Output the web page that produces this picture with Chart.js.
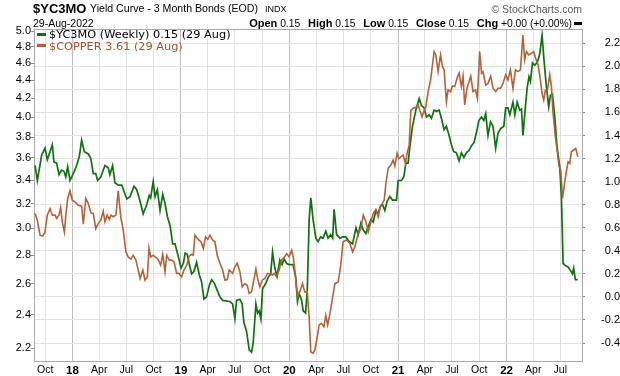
<!DOCTYPE html>
<html>
<head>
<meta charset="utf-8">
<script src="https://cdn.jsdelivr.net/npm/chart.js@4.4.1/dist/chart.umd.min.js"></script>
<style>
  body { margin: 0; background: #fff; }
  #wrap { position: relative; width: 620px; height: 376px; font-family: "Liberation Sans", Arial, sans-serif; color: #000; }
  #chart { position: absolute; left: 0; top: 0; }
  .t { position: absolute; white-space: nowrap; line-height: 1; }
  .lg { font-family: "DejaVu Sans", Verdana, sans-serif; font-size: 11.3px; }
  .mk { display: inline-block; width: 9px; height: 3px; vertical-align: middle; margin-right: 3px; position: relative; top: -1px; }
  #stats b { font-size: 11px; margin-left: 5px; }
  #stats b:first-child { margin-left: 0; }
  .dash { display: inline-block; width: 8px; height: 3px; background: #000; vertical-align: middle; margin-left: 2px; }
</style>
</head>
<body>
<div id="wrap">
  <canvas id="chart" width="620" height="376"></canvas>
  <div class="t" style="left:33px; top:2px; font-size:13px; font-weight:bold;">$YC3MO</div>
  <div class="t" style="left:90px; top:3px; font-size:10.6px;">Yield Curve - 3 Month Bonds (EOD)</div>
  <div class="t" style="left:265px; top:4.5px; font-size:9px;">INDX</div>
  <div class="t" style="left:33px; top:17.5px; font-size:10.5px;">29-Aug-2022</div>
  <div class="t" style="right:38px; top:4px; font-size:10.5px; color:#555;">© StockCharts.com</div>
  <div class="t" id="stats" style="right:38px; top:17.5px; font-size:10.3px;"><b>Open</b> 0.15 <b>High</b> 0.15 <b>Low</b> 0.15 <b>Close</b> 0.15 <b>Chg</b> +0.00 (+0.00%)<span class="dash"></span></div>
  <div class="t lg" style="left:37px; top:29px;"><span class="mk" style="background:#11700f"></span>$YC3MO (Weekly) 0.15 (29 Aug)</div>
  <div class="t lg" style="left:37px; top:40.5px; color:#a0522d;"><span class="mk" style="background:#b0623a"></span>$COPPER 3.61 (29 Aug)</div>
</div>
<script>
// weeks are counted from the first weekly bar, 28 Aug 2017
const START = Date.UTC(2017, 7, 28);
const WEEK = 7 * 86400000;

// $YC3MO (weekly), right axis
const ycWeek = [0,1.1,3.2,4.8,5.9,7.2,8.3,9.1,10.4,11.5,
  12.8,13.9,14.8,15.7,16.8,18.4,20.0,21.3,22.4,23.7,
  25.6,26.8,28.0,29.2,30.1,31.6,33.6,35.2,36.0,37.3,
  38.4,40.0,41.7,44.1,45.7,47.6,48.9,50.5,52.0,53.7,
  54.9,55.6,56.8,57.7,58.8,60.1,61.4,62.5,63.6,64.9,
  66.2,67.3,68.9,70.2,71.3,72.2,73.2,74.1,75.3,76.4,
  77.7,79.0,80.1,81.2,82.5,83.8,84.9,86.2,87.3,88.9,
  90.2,93.7,95.0,96.1,96.9,98.5,99.6,100.4,101.7,103.0,
  104.1,104.9,106.2,107.0,107.8,108.6,109.4,111.0,112.1,113.3,
  114.2,115.3,116.4,117.7,118.8,119.7,121.0,122.2,124.1,125.3,
  126.2,127.0,128.2,128.9,130.1,130.9,131.8,132.6,133.7,135.0,
  136.1,137.3,138.5,139.8,140.9,142.1,143.1,143.8,145.0,146.6,
  147.9,149.4,151.0,152.7,154.3,155.4,156.7,157.8,159.1,160.2,
  161.5,162.6,163.9,165.0,166.1,167.1,168.2,169.3,170.6,171.9,
  173.8,174.6,176.2,177.3,178.3,179.4,180.2,181.5,183.1,184.7,
  185.8,187.1,188.2,189.5,190.6,191.9,193.0,194.3,195.4,196.7,
  197.8,199.1,200.2,201.3,202.6,203.9,205.0,206.2,207.4,208.7,
  209.8,211.1,212.3,213.4,214.7,215.8,216.7,217.8,219.0,220.2,
  221.5,222.6,223.9,225.4,226.3,227.4,228.3,229.1,229.8,230.7,
  231.8,233.1,233.9,234.6,235.8,236.6,237.5,238.2,239.2,240.3,
  241.6,242.7,243.8,244.7,245.9,247.0,247.8,248.8,249.9,251.0,
  252.3,253.1,253.9,255.2,256.3,257.4,258.4,259.0,259.8,261];
const ycValue = [1.14,1.01,1.23,1.29,1.19,1.26,1.32,1.17,1.16,1.06,
  1.10,1.09,1.04,1.13,1.01,1.07,1.14,1.22,1.36,1.26,
  1.24,1.20,1.07,1.07,1.01,1.04,1.14,1.12,1.06,1.14,
  0.99,0.97,0.97,0.85,0.87,0.96,0.93,0.83,0.72,0.80,
  0.88,0.86,1.00,0.87,0.93,0.75,0.89,0.81,0.70,0.62,
  0.46,0.46,0.35,0.25,0.29,0.38,0.37,0.29,0.20,0.22,
  0.30,0.19,0.13,-0.02,0.00,0.10,0.15,0.12,0.07,0.00,
  -0.03,-0.04,-0.06,-0.19,-0.03,-0.02,-0.06,-0.22,-0.30,-0.46,
  -0.48,-0.40,-0.06,-0.14,-0.12,-0.19,0.07,0.12,0.17,0.20,
  0.39,0.25,0.18,0.32,0.28,0.33,0.29,0.28,0.28,0.17,
  -0.04,0.03,-0.03,-0.12,-0.14,0.06,0.67,0.86,0.67,0.51,
  0.48,0.52,0.51,0.57,0.51,0.54,0.51,0.76,0.54,0.51,
  0.52,0.52,0.48,0.46,0.60,0.54,0.64,0.58,0.55,0.61,
  0.67,0.65,0.75,0.72,0.79,0.80,0.75,0.83,0.87,0.84,
  0.84,1.01,1.01,1.04,1.16,1.16,1.30,1.48,1.62,1.72,
  1.66,1.64,1.56,1.58,1.55,1.62,1.61,1.62,1.55,1.45,
  1.48,1.40,1.32,1.26,1.25,1.18,1.25,1.21,1.25,1.27,
  1.31,1.34,1.43,1.53,1.56,1.53,1.59,1.40,1.52,1.48,
  1.29,1.42,1.46,1.48,1.64,1.64,1.58,1.64,1.69,1.58,
  1.69,1.62,1.63,1.40,1.65,1.81,1.91,1.87,2.03,2.01,
  2.04,2.11,2.27,2.06,1.82,1.65,1.75,1.76,1.56,1.30,
  1.13,0.87,0.29,0.27,0.26,0.23,0.20,0.25,0.15,0.15];

// $COPPER, left (log) axis
const cuWeek = [0,1.1,2.4,3.7,4.8,5.9,7.2,8.3,9.6,10.4,
  11.5,12.3,13.1,14.1,14.9,15.7,16.8,17.9,19.2,20.8,
  22.4,23.2,24.4,25.6,26.9,28.0,29.2,30.4,31.6,32.8,
  33.6,34.7,35.7,36.5,37.6,38.9,40.0,41.2,42.4,43.7,
  44.8,46.1,47.2,48.5,49.6,50.5,51.8,52.9,54.0,54.8,
  55.6,56.8,58.1,59.2,60.4,61.4,62.5,63.3,64.6,65.7,
  66.8,68.1,69.2,70.5,71.6,72.9,74.1,75.3,76.1,76.9,
  77.7,78.8,79.8,80.9,82.0,83.0,84.1,85.4,86.5,87.6,
  88.9,90.2,91.3,92.4,93.4,95.0,96.1,97.2,98.5,99.6,
  100.9,102.0,103.0,104.1,105.2,106.2,107.0,108.1,109.2,110.5,
  111.8,112.9,114.2,115.0,116.1,117.4,118.5,119.8,121.0,122.2,
  123.4,124.1,125.3,126.2,127.3,128.6,129.7,130.9,131.8,132.6,
  133.7,134.5,135.6,136.6,137.7,138.9,139.8,140.7,141.8,143.1,
  144.2,145.8,147.0,148.1,149.8,151.4,152.7,153.8,155.4,156.7,
  157.8,159.1,160.2,161.5,162.6,163.9,165.0,165.8,166.9,167.9,
  168.7,169.8,171.1,172.2,173.0,174.1,174.9,175.9,177.0,178.1,
  178.9,179.9,180.7,181.8,183.1,184.2,185.0,186.1,187.1,187.9,
  189.0,190.2,191.1,191.9,192.7,193.8,195.0,195.9,196.7,197.8,
  198.6,199.8,200.7,201.8,202.9,203.9,205.0,205.8,206.6,207.7,
  208.7,209.5,210.6,211.8,212.7,213.8,214.7,215.4,216.7,217.8,
  219.1,220.2,221.5,222.6,223.8,225.0,226.3,227.4,228.6,229.8,
  231.0,232.2,233.4,234.6,235.4,236.3,237.4,238.7,239.8,240.7,
  241.9,243.0,243.8,244.6,245.4,246.4,247.5,248.3,249.1,250.2,
  251.2,252.0,252.8,253.6,254.4,255.5,256.3,257.1,257.9,259.0,
  260,261];
const cuValue = [3.119,3.065,2.948,2.941,2.973,3.105,3.159,3.105,3.105,3.079,
  3.105,3.167,3.052,2.973,3.119,3.242,3.307,3.227,3.213,3.186,
  3.178,3.034,3.242,3.199,3.123,3.119,2.998,3.038,3.065,3.137,
  3.052,3.105,3.071,3.105,3.092,3.105,3.307,3.092,2.986,2.823,
  2.787,2.771,2.799,2.764,2.694,2.636,2.694,2.624,2.647,2.849,
  2.787,2.799,2.783,2.769,2.729,2.806,2.682,2.799,2.764,2.764,
  2.752,2.671,2.671,2.647,2.694,2.724,2.792,2.806,2.799,2.948,
  2.931,2.911,2.898,2.849,2.936,2.916,2.948,2.911,2.898,2.799,
  2.742,2.694,2.624,2.628,2.694,2.671,2.717,2.742,2.682,2.579,
  2.601,2.590,2.536,2.546,2.624,2.701,2.636,2.579,2.624,2.636,
  2.671,2.666,2.659,2.671,2.647,2.694,2.764,2.783,2.811,2.787,
  2.836,2.792,2.647,2.514,2.546,2.601,2.546,2.546,2.386,2.179,
  2.173,2.189,2.258,2.337,2.347,2.326,2.396,2.337,2.406,2.514,
  2.601,2.612,2.729,2.898,2.911,2.886,2.823,2.861,2.961,2.998,
  3.105,3.052,2.973,3.052,3.119,3.151,3.092,3.159,3.199,3.227,
  3.370,3.505,3.535,3.580,3.525,3.643,3.595,3.610,3.627,3.550,
  3.643,3.722,4.072,4.094,4.104,4.128,4.072,4.004,4.072,4.111,
  4.274,4.405,4.579,4.740,4.700,4.501,4.700,4.559,4.521,4.164,
  4.293,4.274,4.338,4.330,4.424,4.483,4.330,4.448,4.129,4.312,
  4.385,4.448,4.274,4.293,4.200,4.740,4.483,4.501,4.346,4.366,
  4.448,4.312,4.274,4.312,4.312,4.366,4.464,4.405,4.521,4.312,
  4.521,4.501,4.521,4.949,4.639,4.740,4.700,4.720,4.740,4.660,
  4.579,4.405,4.256,4.182,4.293,4.293,4.464,4.330,4.040,3.802,
  3.643,3.520,3.489,3.242,3.343,3.480,3.564,3.550,3.658,3.675,
  3.691,3.610];

// axis ticks
const quarterDates = ['2017-10-01','2018-01-01','2018-04-01','2018-07-01','2018-10-01',
  '2019-01-01','2019-04-01','2019-07-01','2019-10-01','2020-01-01','2020-04-01','2020-07-01',
  '2020-10-01','2021-01-01','2021-04-01','2021-07-01','2021-10-01','2022-01-01','2022-04-01','2022-07-01'];
const quarterLabels = ['Oct','18','Apr','Jul','Oct','19','Apr','Jul','Oct','20','Apr','Jul',
  'Oct','21','Apr','Jul','Oct','22','Apr','Jul'];
const copperTicks = [2.2,2.4,2.6,2.8,3.0,3.2,3.4,3.6,3.8,4.0,4.2,4.4,4.6,4.8,5.0];
const yieldTicks = [-0.4,-0.2,0.0,0.2,0.4,0.6,0.8,1.0,1.2,1.4,1.6,1.8,2.0,2.2];

const FONT = '"Liberation Sans", Arial, sans-serif';
const GREEN = '#11700f';
const BROWN = '#b0623a';

const quarterWeeks = quarterDates.map((d) => (Date.parse(d + 'T00:00:00Z') - START) / WEEK);

function toPoints(weeks, values) {
  return weeks.map((w, i) => ({ x: w, y: values[i] }));
}

// top edge of the plot frame
const frame = {
  id: 'frame',
  afterDraw(chart) {
    const { ctx, chartArea: a } = chart;
    ctx.save();
    ctx.strokeStyle = '#a8a8a8';
    ctx.lineWidth = 1;
    ctx.beginPath();
    ctx.moveTo(a.left, a.top + 0.5);
    ctx.lineTo(a.right, a.top + 0.5);
    ctx.stroke();
    ctx.restore();
  },
};

new Chart(document.getElementById('chart'), {
  type: 'line',
  data: {
    datasets: [
      {
        label: '$COPPER',
        data: toPoints(cuWeek, cuValue),
        yAxisID: 'y',
        borderColor: BROWN,
        borderWidth: 1.6,
        pointRadius: 0,
        tension: 0,
        order: 1,
      },
      {
        label: '$YC3MO',
        data: toPoints(ycWeek, ycValue),
        yAxisID: 'y1',
        borderColor: GREEN,
        borderWidth: 1.7,
        pointRadius: 0,
        tension: 0,
        order: 2,
      },
    ],
  },
  options: {
    responsive: false,
    animation: false,
    devicePixelRatio: 1,
    layout: { padding: { top: 29, left: 0, right: 0, bottom: 0 } },
    plugins: { legend: { display: false }, tooltip: { enabled: false } },
    scales: {
      x: {
        type: 'linear',
        min: -0.5,
        max: 263,
        afterBuildTicks: (s) => {
          s.ticks = quarterWeeks.map((v, i) => ({ value: v, major: quarterLabels[i].length === 2 }));
        },
        afterFit: (s) => { s.height = 15; },
        ticks: {
          autoSkip: false,
          maxRotation: 0,
          padding: 3,
          color: '#000',
          callback: (v, i) => quarterLabels[i],
          font: (ctx) => (ctx.tick && ctx.tick.major
            ? { family: FONT, size: 11.5, weight: 'bold' }
            : { family: FONT, size: 10.5 }),
        },
        grid: {
          color: (ctx) => (ctx.tick && ctx.tick.major ? '#bdbdbd' : '#e2e2e2'),
          drawTicks: false,
        },
        border: { color: '#a8a8a8' },
      },
      y: {
        type: 'logarithmic',
        position: 'left',
        min: 2.129,
        max: 5.026,
        afterBuildTicks: (s) => { s.ticks = copperTicks.map((v) => ({ value: v })); },
        afterFit: (s) => { s.width = 34; },
        ticks: {
          autoSkip: false,
          padding: 0,
          color: '#000',
          font: { family: FONT, size: 11 },
          callback: (v) => Number(v).toFixed(1),
        },
        grid: { drawOnChartArea: false, tickLength: 3, tickColor: '#8c8c8c' },
        border: { color: '#a8a8a8' },
      },
      y1: {
        type: 'linear',
        position: 'right',
        min: -0.556,
        max: 2.324,
        afterBuildTicks: (s) => { s.ticks = yieldTicks.map((v) => ({ value: v })); },
        afterFit: (s) => { s.width = 38; },
        ticks: {
          autoSkip: false,
          padding: 1,
          crossAlign: 'far',
          color: '#000',
          font: { family: FONT, size: 11 },
          callback: (v) => Number(v).toFixed(1),
        },
        grid: { color: '#e2e2e2', tickLength: 3, tickColor: '#8c8c8c' },
        border: { color: '#a8a8a8' },
      },
    },
  },
  plugins: [frame],
});
</script>
</body>
</html>
